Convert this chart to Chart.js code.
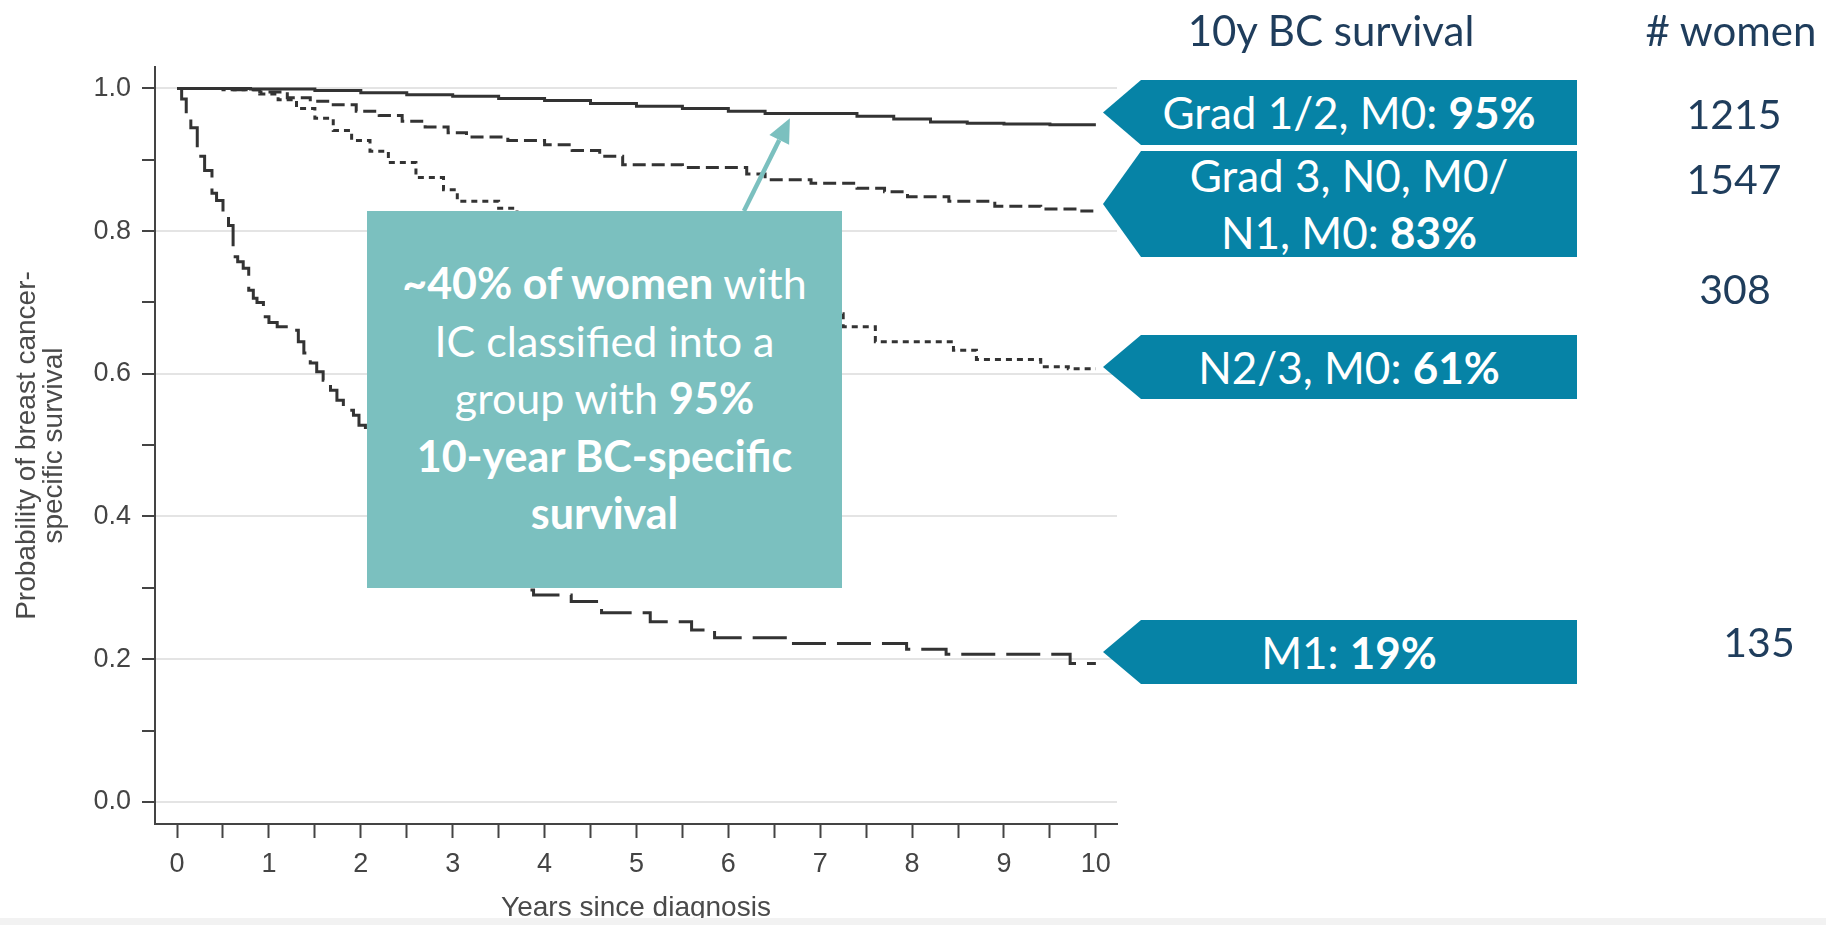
<!DOCTYPE html>
<html>
<head>
<meta charset="utf-8">
<title>10y BC survival</title>
<script src="https://cdn.jsdelivr.net/npm/chart.js@4.4.0/dist/chart.umd.min.js"></script>
<style>
    html, body { margin: 0; padding: 0; background: #fff; }
    #stage { position: relative; width: 1826px; height: 925px; overflow: hidden; font-family: Lato, "Open Sans", sans-serif; }
    #kmChart { position: absolute; left: 0; top: 0; }
    .note { position: absolute; left: 367px; top: 211px; width: 475px; height: 377px; background: #7bc0bf; color: #fff; }
    .note p { margin: 0; position: absolute; left: 0; right: 0; top: 43px; text-align: center; font-size: 43px; line-height: 57.5px; }
    .tag { position: absolute; left: 1103px; width: 474px; background: #0683a6; color: #fff;
        clip-path: polygon(38px 0, 100% 0, 100% 100%, 38px 100%, 0 50%);
        display: flex; align-items: center; justify-content: center; text-align: center;
        padding-left: 18px; box-sizing: border-box; font-size: 44px; line-height: 57px; }
    .head, .count { position: absolute; color: #1f3d5c; white-space: nowrap; transform: translateX(-50%); }
    .head { top: 5px; font-size: 42px; line-height: 50px; }
    .count { font-size: 41px; line-height: 49px; }
    .strip { position: absolute; left: 0; right: 0; bottom: 0; height: 7px; background: #f2f2f2; }
</style>
</head>
<body>
<div id="stage">
    <canvas id="kmChart" width="1826" height="925"></canvas>

    <div class="note"><p><b>~40% of women</b> with<br>IC classified into a<br>group with <b>95%</b><br><b>10-year BC-specific</b><br><b>survival</b></p></div>

    <div class="head" style="left:1331px">10y BC survival</div>
    <div class="head" style="left:1731px"># women</div>

    <div class="tag" style="top:80px;height:65px">Grad 1/2, M0:&nbsp;<b>95%</b></div>
    <div class="tag" style="top:151px;height:106px"><span>Grad 3, N0, M0/<br>N1, M0: <b>83%</b></span></div>
    <div class="tag" style="top:335px;height:64px">N2/3, M0:&nbsp;<b>61%</b></div>
    <div class="tag" style="top:620px;height:64px">M1:&nbsp;<b>19%</b></div>

    <div class="count" style="left:1734px;top:89px">1215</div>
    <div class="count" style="left:1734px;top:154px">1547</div>
    <div class="count" style="left:1735px;top:264px">308</div>
    <div class="count" style="left:1759px;top:617px">135</div>

    <div class="strip"></div>
</div>
<script>
// Kaplan-Meier curves (years since diagnosis / survival probability)
var yearsGrade12 = [0, 0.8, 1.5, 2.0, 2.5, 3.0, 3.5, 4.0, 4.5, 5.0, 5.5, 6.0, 6.4, 7.4, 7.8, 8.2, 8.6, 9.0, 9.5, 10];
var survGrade12 = [1.0, 0.999, 0.997, 0.994, 0.991, 0.989, 0.986, 0.983, 0.979, 0.975, 0.972, 0.968, 0.965, 0.961, 0.957, 0.953, 0.951, 0.950, 0.949, 0.949];

var yearsGrade3 = [0, 0.6, 0.9, 1.2, 1.45, 1.7, 1.95, 2.2, 2.45, 2.7, 2.95, 3.15, 3.6, 4.0, 4.3, 4.6, 4.85, 5.5, 6.2, 6.4, 6.9, 7.4, 7.7, 7.95, 8.4, 8.9, 9.4, 9.8, 10];
var survGrade3 = [1.0, 0.998, 0.995, 0.987, 0.982, 0.977, 0.968, 0.962, 0.954, 0.946, 0.938, 0.932, 0.927, 0.921, 0.913, 0.905, 0.893, 0.889, 0.880, 0.872, 0.867, 0.860, 0.855, 0.848, 0.842, 0.835, 0.831, 0.828, 0.828];

var yearsN23 = [0, 0.5, 0.9, 1.1, 1.3, 1.5, 1.7, 1.9, 2.1, 2.3, 2.6, 2.9, 3.05, 3.5, 3.7, 4.0, 4.4, 4.8, 5.2, 5.6, 6.0, 6.4, 6.8, 7.25, 7.6, 8.45, 8.7, 9.4, 9.7, 10];
var survN23 = [1.0, 0.998, 0.992, 0.984, 0.972, 0.958, 0.941, 0.927, 0.912, 0.896, 0.875, 0.858, 0.842, 0.832, 0.822, 0.805, 0.785, 0.765, 0.745, 0.727, 0.712, 0.698, 0.684, 0.666, 0.645, 0.633, 0.620, 0.610, 0.607, 0.607];

var yearsM1 = [0, 0.05, 0.1, 0.15, 0.22, 0.3, 0.38, 0.43, 0.5, 0.56, 0.61, 0.66, 0.72, 0.78, 0.83, 0.87, 0.94, 1.0, 1.09, 1.23, 1.32, 1.38, 1.45, 1.52, 1.59, 1.67, 1.74, 1.81, 1.92, 1.98, 2.05, 2.3, 2.6, 2.9, 3.2, 3.5, 3.83, 3.88, 4.29, 4.62, 5.15, 5.6, 5.85, 6.62, 7.94, 8.37, 9.72, 10];
var survM1 = [1.0, 0.985, 0.962, 0.945, 0.905, 0.885, 0.853, 0.843, 0.825, 0.808, 0.764, 0.757, 0.748, 0.717, 0.706, 0.700, 0.680, 0.672, 0.666, 0.661, 0.645, 0.629, 0.615, 0.603, 0.591, 0.577, 0.563, 0.549, 0.542, 0.528, 0.511, 0.478, 0.440, 0.405, 0.370, 0.335, 0.297, 0.290, 0.281, 0.265, 0.2525, 0.241, 0.230, 0.222, 0.214, 0.207, 0.194, 0.194];

var groupLabels = ['Grad 1/2, M0', 'Grad 3, N0, M0/N1, M0', 'N2/3, M0', 'M1'];

// arrow of the note box: from box top to the solid curve (data coordinates)
var arrowFrom = [6.17, 0.828];
var arrowTo = [6.67, 0.958];

function toPoints(xs, ys) {
    return xs.map(function (t, i) { return {x: t, y: ys[i]}; });
}

function isMajor(v) {
    return Math.abs(v * 5 - Math.round(v * 5)) < 1e-6;
}

var axisFont = {family: '"Liberation Sans", Arial, sans-serif', size: 27};
var lineColor = '#333';

var noteArrow = {
    id: 'noteArrow',
    afterDatasetsDraw: function (chart) {
        var ctx = chart.ctx, sx = chart.scales.x, sy = chart.scales.y;
        var x0 = sx.getPixelForValue(arrowFrom[0]), y0 = sy.getPixelForValue(arrowFrom[1]);
        var x1 = sx.getPixelForValue(arrowTo[0]), y1 = sy.getPixelForValue(arrowTo[1]);
        var ang = Math.atan2(y1 - y0, x1 - x0);
        var head = 24, half = 11;
        var bx = x1 - head * Math.cos(ang), by = y1 - head * Math.sin(ang);
        ctx.save();
        ctx.strokeStyle = '#7bc0bf';
        ctx.fillStyle = '#7bc0bf';
        ctx.lineWidth = 4.5;
        ctx.beginPath();
        ctx.moveTo(x0, y0);
        ctx.lineTo(bx, by);
        ctx.stroke();
        ctx.beginPath();
        ctx.moveTo(x1, y1);
        ctx.lineTo(bx + half * Math.sin(ang), by - half * Math.cos(ang));
        ctx.lineTo(bx - half * Math.sin(ang), by + half * Math.cos(ang));
        ctx.closePath();
        ctx.fill();
        ctx.restore();
    }
};

var ctx = document.getElementById('kmChart').getContext('2d');
new Chart(ctx, {
    type: 'line',
    data: {
        datasets: [{
            label: groupLabels[0],
            data: toPoints(yearsGrade12, survGrade12),
            borderColor: lineColor,
            borderWidth: 3,
            borderDash: []
        }, {
            label: groupLabels[1],
            data: toPoints(yearsGrade3, survGrade3),
            borderColor: lineColor,
            borderWidth: 3,
            borderDash: [13, 6]
        }, {
            label: groupLabels[2],
            data: toPoints(yearsN23, survN23),
            borderColor: lineColor,
            borderWidth: 3,
            borderDash: [6, 5]
        }, {
            label: groupLabels[3],
            data: toPoints(yearsM1, survM1),
            borderColor: lineColor,
            borderWidth: 3,
            borderDash: [34, 11]
        }]
    },
    options: {
        responsive: false,
        animation: false,
        events: [],
        datasets: {line: {stepped: 'before', pointRadius: 0, fill: false, borderCapStyle: 'butt'}},
        layout: {padding: {top: 67, right: 709, bottom: 0, left: 0}},
        scales: {
            x: {
                type: 'linear',
                min: -0.24,
                max: 10.23,
                afterFit: function (s) { s.height = 101; },
                border: {display: true, color: '#444', width: 2},
                grid: {drawOnChartArea: false, drawTicks: true, tickLength: 14, tickColor: '#444', tickWidth: 2},
                ticks: {
                    stepSize: 0.5, autoSkip: false, maxRotation: 0, includeBounds: false, padding: 10,
                    color: '#444', font: axisFont,
                    callback: function (v) { return Number.isInteger(v) ? String(v) : ''; }
                },
                title: {
                    display: true, text: 'Years since diagnosis', color: '#4a4a4a',
                    font: {family: '"Liberation Sans", Arial, sans-serif', size: 28},
                    padding: {top: 0, bottom: 0}
                }
            },
            y: {
                type: 'linear',
                min: -0.031,
                max: 1.03,
                afterFit: function (s) { s.width = 155; },
                border: {display: true, color: '#444', width: 2},
                grid: {
                    color: function (c) { return c.tick && isMajor(c.tick.value) ? '#e4e4e4' : 'rgba(0,0,0,0)'; },
                    lineWidth: 2, tickLength: 13, tickColor: '#444', tickWidth: 2
                },
                ticks: {
                    stepSize: 0.1, autoSkip: false, includeBounds: false, padding: 11,
                    color: '#444', font: axisFont,
                    callback: function (v) { return isMajor(v) ? v.toFixed(1) : ''; }
                },
                title: {
                    display: true, text: ['Probability of breast cancer-', 'specific survival'], color: '#4a4a4a',
                    font: {family: '"Liberation Sans", Arial, sans-serif', size: 28, lineHeight: 0.97},
                    padding: {top: 14, bottom: 0}
                }
            }
        },
        plugins: {legend: {display: false}, tooltip: {enabled: false}}
    },
    plugins: [noteArrow]
});
</script>
</body>
</html>
